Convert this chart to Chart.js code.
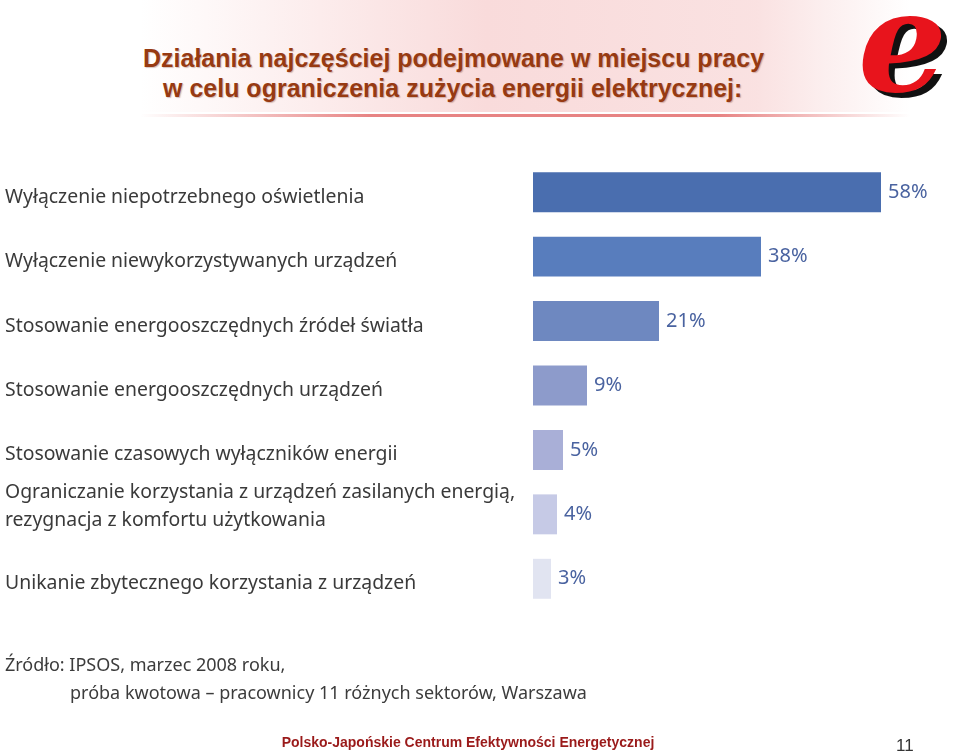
<!DOCTYPE html>
<html lang="pl">
<head>
<meta charset="utf-8">
<title>Działania podejmowane w miejscu pracy</title>
<script src="https://cdn.jsdelivr.net/npm/chart.js@4/dist/chart.umd.min.js"></script>
<style>
  html, body { margin: 0; padding: 0; background: #fff; }
  #page { position: relative; width: 959px; height: 755px; overflow: hidden; }
  #banner {
    position: absolute; left: 140px; top: 0; width: 770px; height: 112px;
    background: linear-gradient(to right, rgba(255,255,255,0) 0%, rgba(245,190,190,0.25) 20%, rgba(240,165,165,0.4) 45%, rgba(240,170,170,0.35) 80%, rgba(255,255,255,0) 100%);
  }
  #rule {
    position: absolute; left: 140px; top: 114px; width: 770px; height: 3px;
    background: linear-gradient(to right, rgba(230,120,120,0) 0%, rgba(225,100,100,0.8) 30%, rgba(225,100,100,0.8) 75%, rgba(230,120,120,0) 100%);
  }
  .title {
    position: absolute; white-space: nowrap;
    font-family: "Liberation Sans", Arial, sans-serif; font-weight: bold; font-size: 25px;
    color: #973a12; text-shadow: 1px 1px 1px rgba(120,60,40,0.3);
  }
  #logo {
    position: absolute; left: 858px; top: -40px;
    font-family: "DejaVu Serif", serif; font-style: italic; font-weight: bold; font-size: 140px;
    color: #e8141c; text-shadow: 6px 5px 0 #111;
  }
  #chart { position: absolute; left: 0; top: 0; }
  .src {
    position: absolute; font-family: "Noto Sans", sans-serif; font-size: 18px; color: #3c3c3c; white-space: nowrap;
  }
  #footer {
    position: absolute; left: 0; top: 734px; width: 936px; text-align: center;
    font-family: "Liberation Sans", Arial, sans-serif; font-weight: bold; font-size: 14px; color: #9a1a1a;
  }
  #pagenum {
    position: absolute; left: 896px; top: 736px;
    font-family: "Liberation Sans", Arial, sans-serif; font-size: 17px; color: #333;
  }
</style>
</head>
<body>
<div id="page">
  <div id="banner"></div>
  <div id="rule"></div>
  <div class="title" style="left:143px; top:44px;">Działania najczęściej podejmowane w miejscu pracy</div>
  <div class="title" style="left:163px; top:74px;">w celu ograniczenia zużycia energii elektrycznej:</div>
  <div id="logo">e</div>
  <canvas id="chart" width="959" height="755"></canvas>
  <div class="src" style="left:5px; top:652px;">Źródło: IPSOS, marzec 2008 roku,</div>
  <div class="src" style="left:70px; top:680px;">próba kwotowa – pracownicy 11 różnych sektorów, Warszawa</div>
  <div id="footer">Polsko-Japońskie Centrum Efektywności Energetycznej</div>
  <div id="pagenum">11</div>
</div>
<script>
// Kategorie i wartości (%)
const categories = [
  'Wyłączenie niepotrzebnego oświetlenia',
  'Wyłączenie niewykorzystywanych urządzeń',
  'Stosowanie energooszczędnych źródeł światła',
  'Stosowanie energooszczędnych urządzeń',
  'Stosowanie czasowych wyłączników energii',
  ['Ograniczanie korzystania z urządzeń zasilanych energią,', 'rezygnacja z komfortu użytkowania'],
  'Unikanie zbytecznego korzystania z urządzeń'
];
const values = [58, 38, 21, 9, 5, 4, 3];
const barColors = ['#4a6eaf', '#587dbd', '#6e88c0', '#8d9bcb', '#a9afd7', '#c6cae6', '#e1e4f1'];

// Podpisy kategorii po lewej, wyrównane do lewej krawędzi
const categoryLabels = {
  id: 'categoryLabels',
  afterDraw(chart) {
    const ctx = chart.ctx;
    const yScale = chart.scales.y;
    const lineH = 28;
    ctx.save();
    ctx.font = '19.4px "Noto Sans", sans-serif';
    ctx.fillStyle = '#3a3a3a';
    ctx.textAlign = 'left';
    ctx.textBaseline = 'middle';
    categories.forEach((label, i) => {
      const y = yScale.getPixelForTick(i);
      if (Array.isArray(label)) {
        // dwie linie – tekst przesunięty nieco w górę
        label.forEach((line, j) => {
          ctx.fillText(line, 5, y - 8 + (j - (label.length - 1) / 2) * lineH);
        });
      } else {
        ctx.fillText(label, 5, y + 5);
      }
    });
    ctx.restore();
  }
};

// Etykiety wartości za słupkami
const valueLabels = {
  id: 'valueLabels',
  afterDatasetsDraw(chart) {
    const ctx = chart.ctx;
    const meta = chart.getDatasetMeta(0);
    ctx.save();
    ctx.font = '20px "Noto Sans", sans-serif';
    ctx.fillStyle = '#4a63a0';
    ctx.textAlign = 'left';
    ctx.textBaseline = 'middle';
    meta.data.forEach((bar, i) => {
      ctx.fillText(values[i] + '%', bar.x + 7, bar.y);
    });
    ctx.restore();
  }
};

new Chart(document.getElementById('chart'), {
  type: 'bar',
  data: {
    labels: categories,
    datasets: [{
      data: values,
      backgroundColor: barColors,
      borderWidth: 0,
      barPercentage: 0.62,
      categoryPercentage: 1
    }]
  },
  options: {
    indexAxis: 'y',
    responsive: false,
    animation: false,
    layout: { padding: { left: 5, right: 6, top: 160, bottom: 144 } },
    plugins: { legend: { display: false }, tooltip: { enabled: false } },
    scales: {
      x: { display: false, min: 0, max: 70 },
      y: {
        grid: { display: false },
        border: { display: false },
        afterFit(scale) { scale.width = 528; },
        ticks: { display: false }
      }
    }
  },
  plugins: [categoryLabels, valueLabels]
});
</script>
</body>
</html>
